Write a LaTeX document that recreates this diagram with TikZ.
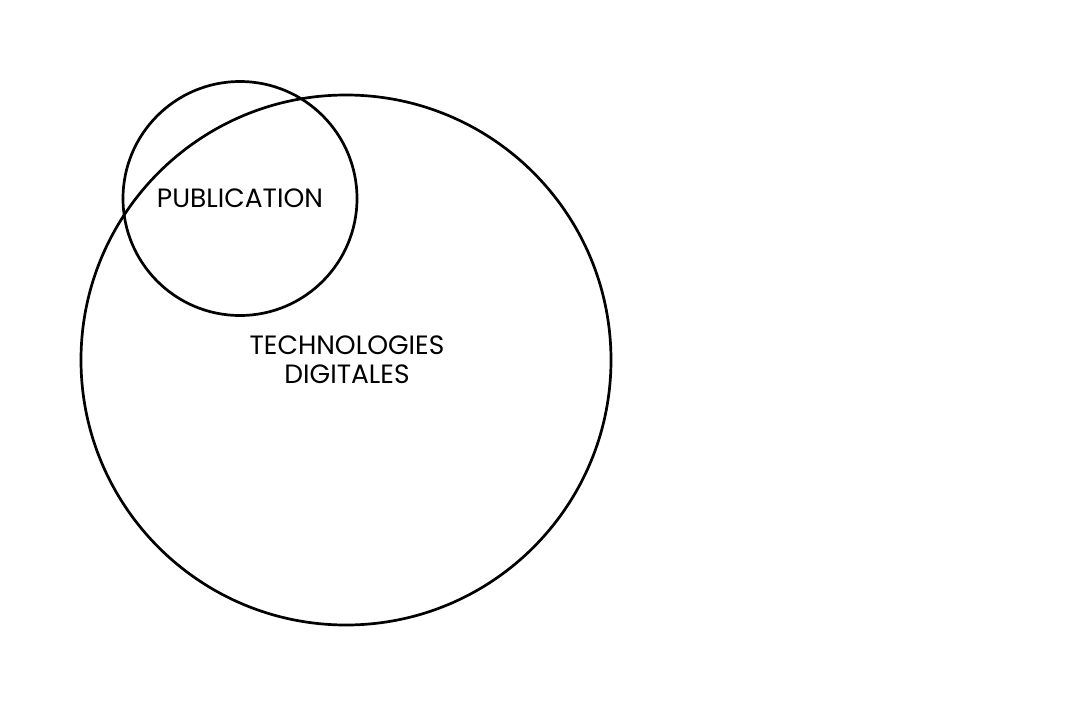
\documentclass[tikz,border=0pt]{standalone}
\usepackage{fontspec}
\setmainfont{Poppins}
\begin{document}
\begin{tikzpicture}[x=1pt,y=-1pt,
  ring/.style={draw=black,line width=2.7pt},
  lbl/.style={font=\fontsize{26.5}{29}\selectfont,align=center,inner sep=0pt}]
\useasboundingbox (0,0) rectangle (1069,707);
\fill[white] (0,0) rectangle (1069,707);
\draw[ring] (346,360) circle (265);
\draw[ring] (240,198.5) circle (117);
\node[lbl] (pub) at (240,198.5) {PUBLICATION};
\node[lbl] (tech) at (347,360) {TECHNOLOGIES\\DIGITALES};
\end{tikzpicture}
\end{document}
